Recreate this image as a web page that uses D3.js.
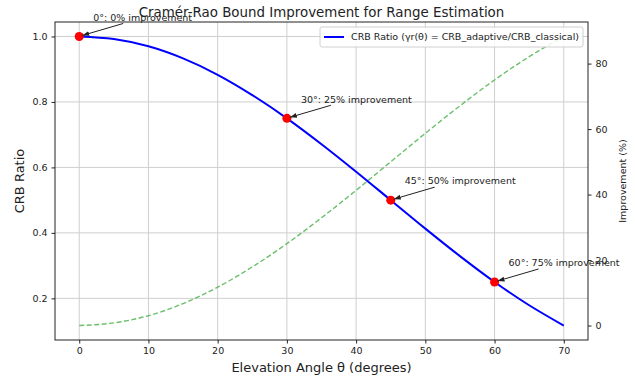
<!DOCTYPE html>
<html>
<head>
<meta charset="utf-8">
<script src="https://cdn.jsdelivr.net/npm/d3@7"></script>
<style>
  body { margin: 0; background: #fff; }
  svg { font-family: "DejaVu Sans", sans-serif; }
</style>
</head>
<body>
<div id="chart"></div>
<script>
// values
var angles = [0, 5, 10, 15, 20, 25, 30, 35, 40, 45, 50, 55, 60, 65, 70];
var crbRatio = [1.000, 0.992, 0.970, 0.933, 0.883, 0.821, 0.750, 0.671, 0.587, 0.500, 0.413, 0.329, 0.250, 0.179, 0.117];
var improvement = [0, 0.8, 3.0, 6.7, 11.7, 17.9, 25.0, 32.9, 41.3, 50.0, 58.7, 67.1, 75.0, 82.1, 88.3];
var markAngles = [0, 30, 45, 60];
var markRatio = [1.0, 0.75, 0.5, 0.25];
var markLabels = ["0°: 0% improvement", "30°: 25% improvement", "45°: 50% improvement", "60°: 75% improvement"];
var xTicks = [0, 10, 20, 30, 40, 50, 60, 70];
var yTicks = [0.2, 0.4, 0.6, 0.8, 1.0];
var y2Ticks = [0, 20, 40, 60, 80];

var W = 635, H = 380;
var m = {left: 55, right: 47, top: 22, bottom: 40};

var svg = d3.select("#chart").append("svg")
    .attr("width", W)
    .attr("height", H);

var x = d3.scaleLinear().domain([-3.5, 73.5]).range([m.left, W - m.right]);
var y = d3.scaleLinear().domain([0.0728, 1.0442]).range([H - m.bottom, m.top]);
var y2 = d3.scaleLinear().domain([-4.42, 92.7]).range([H - m.bottom, m.top]);

// grid
svg.append("g").selectAll("line").data(xTicks).enter().append("line")
    .attr("x1", function (d) { return x(d); })
    .attr("x2", function (d) { return x(d); })
    .attr("y1", m.top).attr("y2", H - m.bottom)
    .attr("stroke", "#cfcfcf").attr("stroke-width", 1);
svg.append("g").selectAll("line").data(yTicks).enter().append("line")
    .attr("x1", m.left).attr("x2", W - m.right)
    .attr("y1", function (d) { return y(d); })
    .attr("y2", function (d) { return y(d); })
    .attr("stroke", "#cfcfcf").attr("stroke-width", 1);

// axes
var xAxis = svg.append("g")
    .attr("transform", "translate(0," + (H - m.bottom) + ")")
    .call(d3.axisBottom(x).tickValues(xTicks).tickSize(3.5).tickPadding(4).tickSizeOuter(0));
var yAxis = svg.append("g")
    .attr("transform", "translate(" + m.left + ",0)")
    .call(d3.axisLeft(y).tickValues(yTicks).tickFormat(d3.format(".1f")).tickSize(3.5).tickPadding(4).tickSizeOuter(0));
var y2Axis = svg.append("g")
    .attr("transform", "translate(" + (W - m.right) + ",0)")
    .call(d3.axisRight(y2).tickValues(y2Ticks).tickSize(3.5).tickPadding(4).tickSizeOuter(0));

[xAxis, yAxis, y2Axis].forEach(function (a) {
    a.selectAll("text").attr("font-size", 9.5).attr("fill", "#222").attr("font-family", "DejaVu Sans");
    a.selectAll(".tick line").attr("stroke", "#222");
    a.select(".domain").remove();
});

// frame
svg.append("rect")
    .attr("x", m.left).attr("y", m.top)
    .attr("width", W - m.left - m.right)
    .attr("height", H - m.top - m.bottom)
    .attr("fill", "none").attr("stroke", "#222").attr("stroke-width", 1);

// improvement line (right axis)
var line2 = d3.line()
    .x(function (d, i) { return x(angles[i]); })
    .y(function (d) { return y2(d); })
    .curve(d3.curveMonotoneX);
svg.append("path")
    .datum(improvement)
    .attr("d", line2)
    .attr("fill", "none")
    .attr("stroke", "#5cb85c")
    .attr("stroke-opacity", 0.9)
    .attr("stroke-width", 1.4)
    .attr("stroke-dasharray", "5,2.5");

// crb ratio line
var line1 = d3.line()
    .x(function (d, i) { return x(angles[i]); })
    .y(function (d) { return y(d); })
    .curve(d3.curveMonotoneX);
svg.append("path")
    .datum(crbRatio)
    .attr("d", line1)
    .attr("fill", "none")
    .attr("stroke", "#0000ff")
    .attr("stroke-width", 2);

// markers
svg.append("g").selectAll("circle").data(markAngles).enter().append("circle")
    .attr("cx", function (d) { return x(d); })
    .attr("cy", function (d, i) { return y(markRatio[i]); })
    .attr("r", 4.5)
    .attr("fill", "#ff0000");

// annotations
svg.append("defs").append("marker")
    .attr("id", "arr")
    .attr("viewBox", "0 0 10 10")
    .attr("refX", 10).attr("refY", 5)
    .attr("markerWidth", 7).attr("markerHeight", 7)
    .attr("orient", "auto")
    .append("path").attr("d", "M0,1.5 L10,5 L0,8.5 Z").attr("fill", "#222");

markAngles.forEach(function (a, i) {
    var px = x(a), py = y(markRatio[i]);
    var tx = px + 14, ty = py - 19;
    svg.append("line")
        .attr("x1", tx + 30).attr("y1", ty + 6)
        .attr("x2", px + 3).attr("y2", py - 1)
        .attr("stroke", "#222").attr("stroke-width", 1)
        .attr("marker-end", "url(#arr)");
    svg.append("text")
        .attr("x", tx).attr("y", ty)
        .attr("dy", "0.35em")
        .attr("font-size", 9.5)
        .attr("fill", "#222")
        .text(markLabels[i]);
});

// legend
var lg = svg.append("g").attr("transform", "translate(320,27)");
lg.append("rect")
    .attr("width", 263).attr("height", 20).attr("rx", 2)
    .attr("fill", "#fff").attr("fill-opacity", 0.85)
    .attr("stroke", "#d0d0d0");
lg.append("line")
    .attr("x1", 4).attr("x2", 24).attr("y1", 10).attr("y2", 10)
    .attr("stroke", "#0000ff").attr("stroke-width", 2);
lg.append("text")
    .attr("x", 31).attr("y", 10).attr("dy", "0.35em")
    .attr("font-size", 9.5).attr("fill", "#222")
    .text("CRB Ratio (γr(θ) = CRB_adaptive/CRB_classical)");

// titles
svg.append("text")
    .attr("x", 321.5).attr("y", 16.5)
    .attr("text-anchor", "middle")
    .attr("font-size", 13.4).attr("fill", "#222")
    .text("Cramér-Rao Bound Improvement for Range Estimation");
svg.append("text")
    .attr("x", (m.left + W - m.right) / 2).attr("y", 372)
    .attr("text-anchor", "middle")
    .attr("font-size", 13).attr("fill", "#222")
    .text("Elevation Angle θ (degrees)");
svg.append("text")
    .attr("transform", "translate(24," + ((m.top + H - m.bottom) / 2) + ") rotate(-90)")
    .attr("text-anchor", "middle")
    .attr("font-size", 13).attr("fill", "#222")
    .text("CRB Ratio");
svg.append("text")
    .attr("transform", "translate(626," + ((m.top + H - m.bottom) / 2) + ") rotate(-90)")
    .attr("text-anchor", "middle")
    .attr("font-size", 9.5).attr("fill", "#222")
    .text("Improvement (%)");
</script>
</body>
</html>
